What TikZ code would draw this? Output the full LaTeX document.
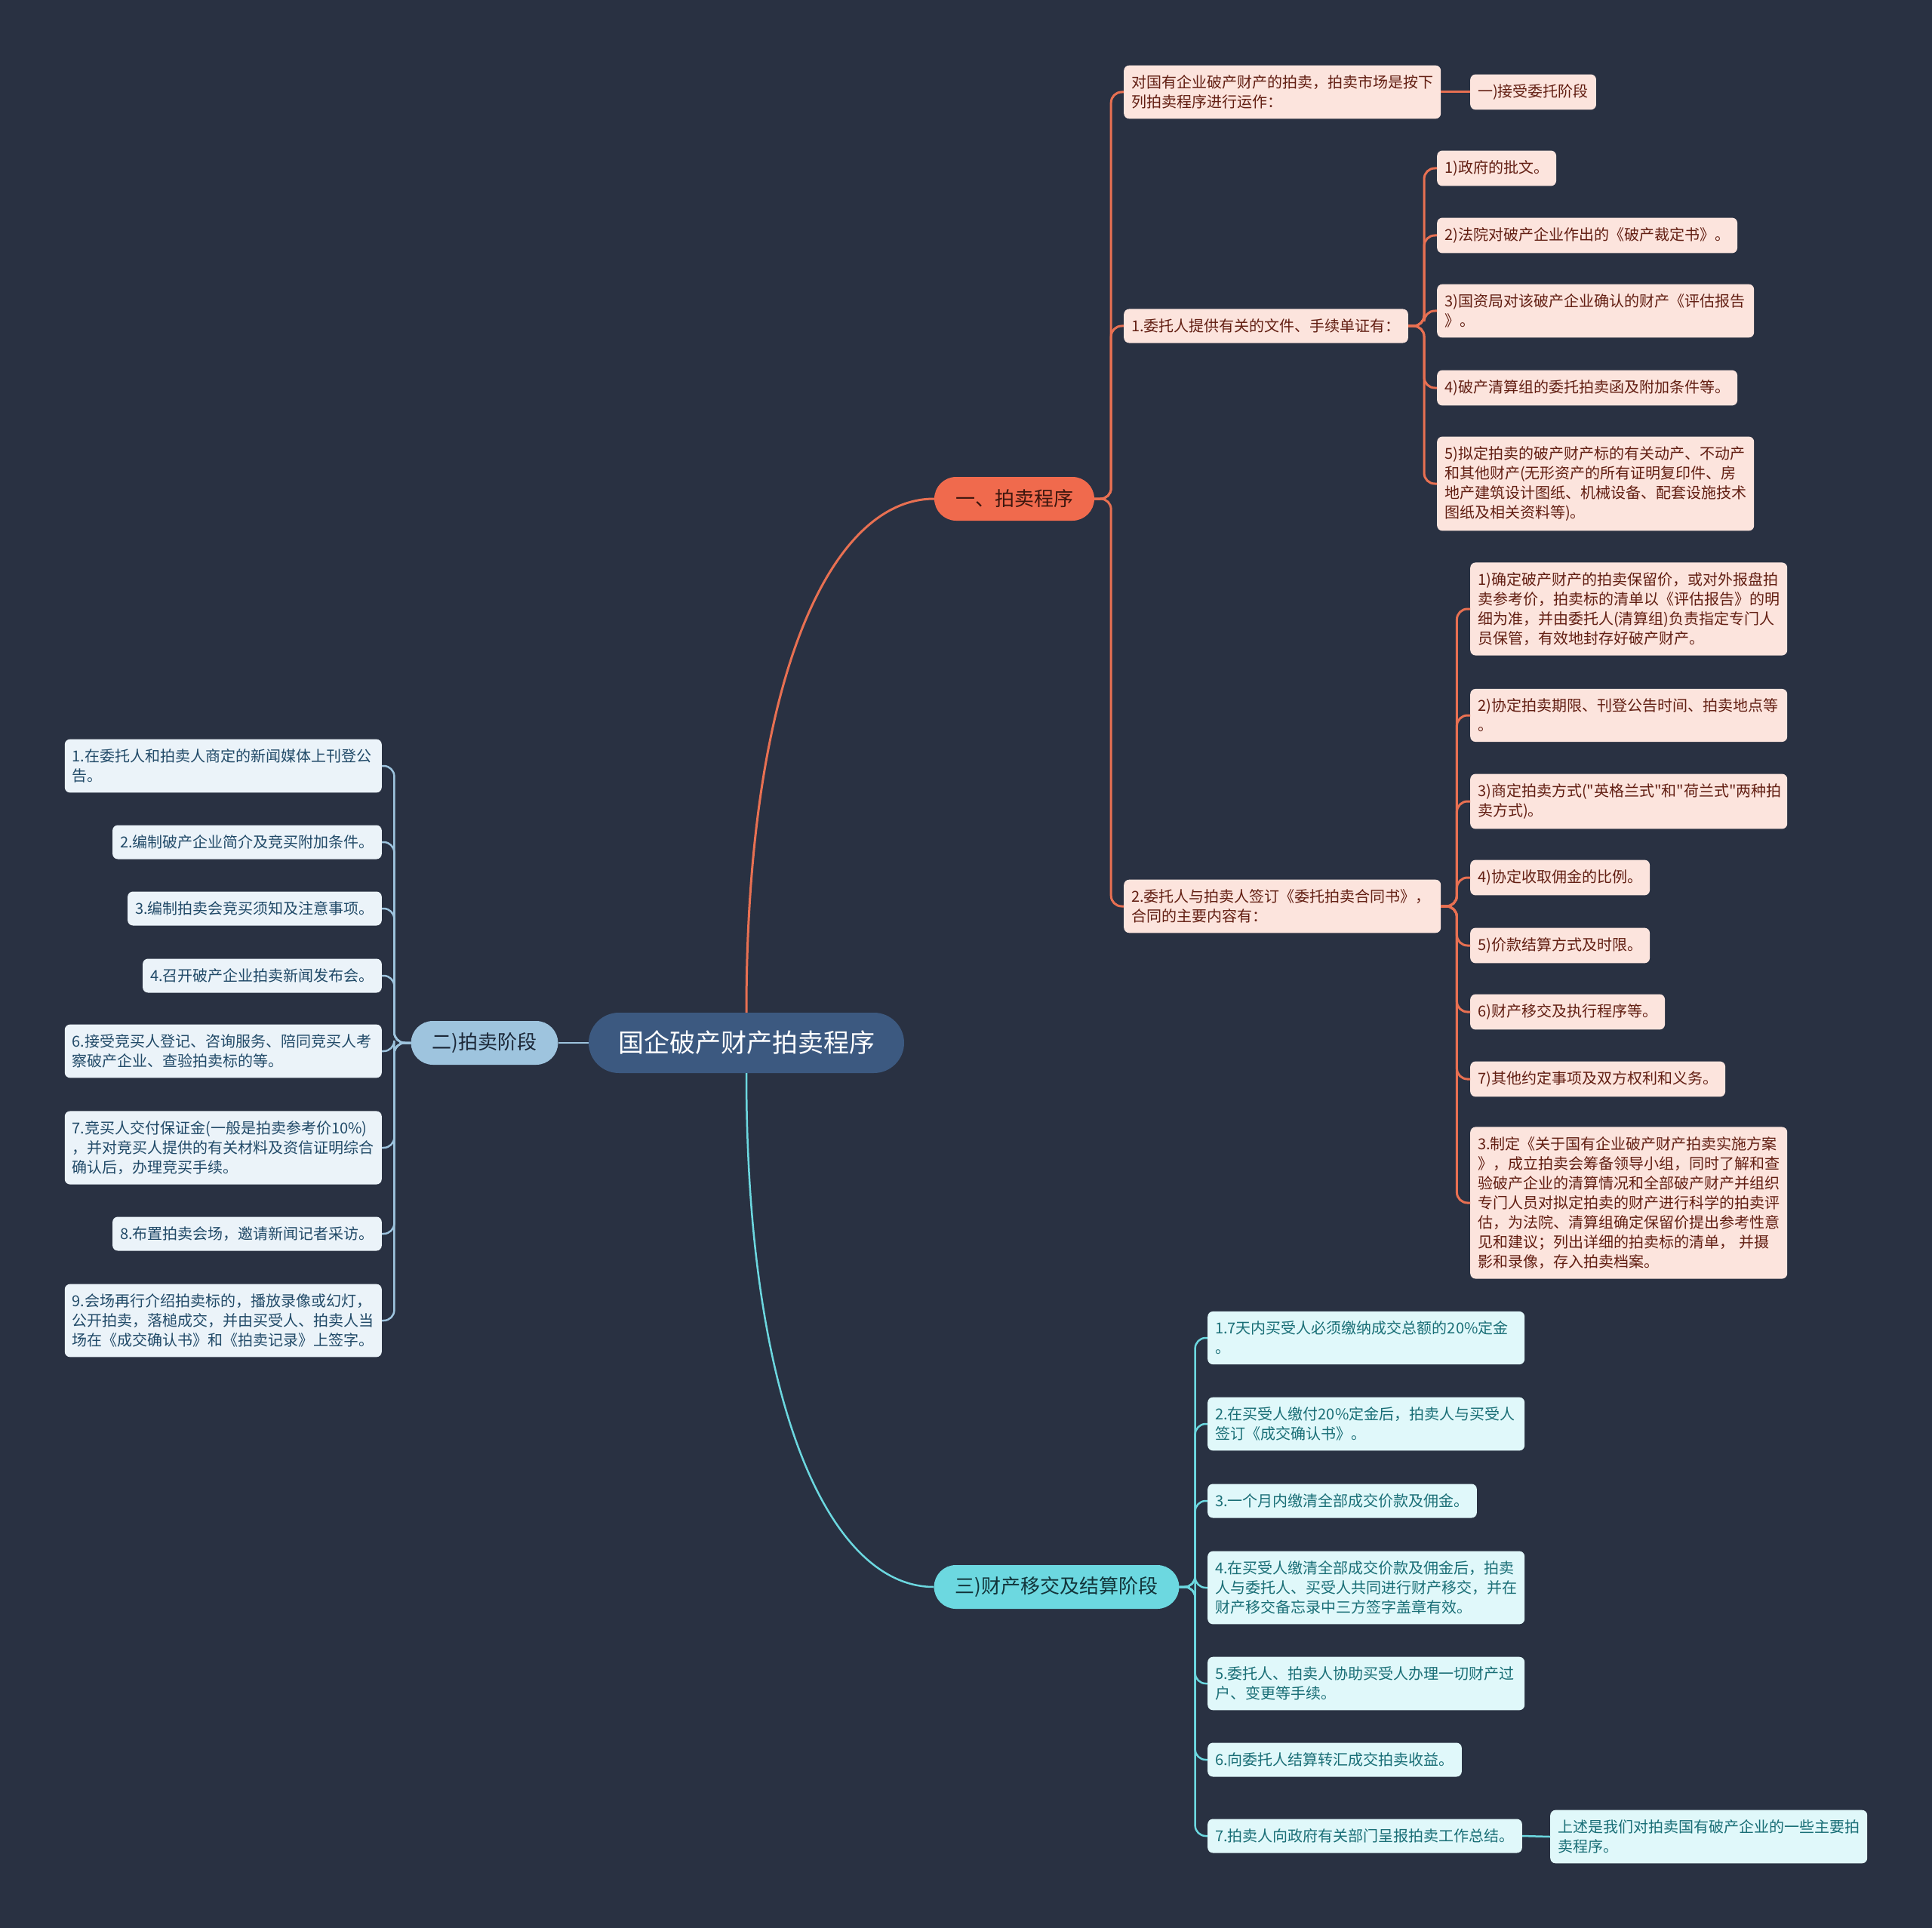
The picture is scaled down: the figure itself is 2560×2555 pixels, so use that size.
\documentclass[tikz,border=0pt]{standalone}
\usepackage{fontspec}
\usepackage{tikz}
\newfontfamily\cjk{Noto Sans CJK SC}
\definecolor{bgdark}{RGB}{41,49,66}
\definecolor{rootblue}{RGB}{60,89,128}
\definecolor{orangemain}{RGB}{240,106,77}
\definecolor{orangeline}{RGB}{232,112,82}
\definecolor{orangeleaf}{RGB}{252,228,221}
\definecolor{orangetext}{RGB}{98,30,18}
\definecolor{orangedark}{RGB}{60,22,14}
\definecolor{bluemain}{RGB}{158,196,222}
\definecolor{blueleaf}{RGB}{235,243,249}
\definecolor{bluetext}{RGB}{33,74,104}
\definecolor{bluedark}{RGB}{28,40,56}
\definecolor{cyanmain}{RGB}{108,216,224}
\definecolor{cyanleaf}{RGB}{224,248,250}
\definecolor{cyantext}{RGB}{25,110,118}
\definecolor{cyandark}{RGB}{18,52,58}

\tikzset{
  rootnode/.style={fill=rootblue, text=white, rounded corners=40pt, minimum height=80pt,
    inner xsep=39pt, font=\cjk\fontsize{34}{40}\selectfont},
  mainnode/.style={rounded corners=29pt, minimum height=58pt, inner xsep=28pt,
    font=\cjk\fontsize{26}{32}\selectfont},
  leafnode/.style={rounded corners=7pt, inner xsep=10pt, inner ysep=13pt, minimum height=45pt,
    align=left, font=\cjk\fontsize{20}{26}\selectfont},
  wide/.style={text width=400pt},
  orleaf/.style={leafnode, fill=orangeleaf, text=orangetext},
  blleaf/.style={leafnode, fill=blueleaf, text=bluetext},
  cyleaf/.style={leafnode, fill=cyanleaf, text=cyantext},
  orlink/.style={draw=orangeline, line width=3pt, rounded corners=14pt},
  bllink/.style={draw=bluemain, line width=2.5pt, rounded corners=14pt},
  cylink/.style={draw=cyanmain, line width=2.5pt, rounded corners=14pt}
}

\begin{document}
\begin{tikzpicture}[x=1pt, y=-1pt]
\fill[bgdark] (0,0) rectangle (2560,2555);

\node[rootnode] (root) at (989,1382) {国企破产财产拍卖程序};
\node[mainnode, fill=orangemain, text=orangedark] (sale) at (1344,661) {一、拍卖程序};
\node[mainnode, fill=bluemain, text=bluedark] (auction) at (642,1382) {二)拍卖阶段};
\node[mainnode, fill=cyanmain, text=cyandark] (handover) at (1400,2103) {三)财产移交及结算阶段};

% 一、拍卖程序
\node[orleaf, wide, anchor=west] (intro) at (1489,122) {对国有企业破产财产的拍卖，拍卖市场是按下\\列拍卖程序进行运作：};
\node[orleaf, anchor=west] (accept) at (1948,122) {一)接受委托阶段};
\node[orleaf, anchor=west] (docs) at (1489,432) {1.委托人提供有关的文件、手续单证有：};
\node[orleaf, anchor=west] (doc1) at (1904,223) {1)政府的批文。};
\node[orleaf, anchor=west] (doc2) at (1904,312) {2)法院对破产企业作出的《破产裁定书》。};
\node[orleaf, wide, anchor=west] (doc3) at (1904,412) {3)国资局对该破产企业确认的财产《评估报告\\》。};
\node[orleaf, anchor=west] (doc4) at (1904,514) {4)破产清算组的委托拍卖函及附加条件等。};
\node[orleaf, wide, anchor=west] (doc5) at (1904,641) {5)拟定拍卖的破产财产标的有关动产、不动产\\和其他财产(无形资产的所有证明复印件、房\\地产建筑设计图纸、机械设备、配套设施技术\\图纸及相关资料等)。};
\node[orleaf, wide, anchor=west] (contract) at (1489,1201) {2.委托人与拍卖人签订《委托拍卖合同书》，\\合同的主要内容有：};
\node[orleaf, wide, anchor=west] (term1) at (1948,807) {1)确定破产财产的拍卖保留价，或对外报盘拍\\卖参考价，拍卖标的清单以《评估报告》的明\\细为准，并由委托人(清算组)负责指定专门人\\员保管，有效地封存好破产财产。};
\node[orleaf, wide, anchor=west] (term2) at (1948,948) {2)协定拍卖期限、刊登公告时间、拍卖地点等\\。};
\node[orleaf, wide, anchor=west] (term3) at (1948,1062) {3)商定拍卖方式("英格兰式"和"荷兰式"两种拍\\卖方式)。};
\node[orleaf, anchor=west] (term4) at (1948,1163) {4)协定收取佣金的比例。};
\node[orleaf, anchor=west] (term5) at (1948,1253) {5)价款结算方式及时限。};
\node[orleaf, anchor=west] (term6) at (1948,1341) {6)财产移交及执行程序等。};
\node[orleaf, anchor=west] (term7) at (1948,1430) {7)其他约定事项及双方权利和义务。};
\node[orleaf, wide, anchor=west] (plan) at (1948,1594) {3.制定《关于国有企业破产财产拍卖实施方案\\》，成立拍卖会筹备领导小组，同时了解和查\\验破产企业的清算情况和全部破产财产并组织\\专门人员对拟定拍卖的财产进行科学的拍卖评\\估，为法院、清算组确定保留价提出参考性意\\见和建议；列出详细的拍卖标的清单， 并摄\\影和录像，存入拍卖档案。};

% 二)拍卖阶段
\node[blleaf, wide, anchor=east] (step1) at (506,1015) {1.在委托人和拍卖人商定的新闻媒体上刊登公\\告。};
\node[blleaf, anchor=east] (step2) at (506,1116) {2.编制破产企业简介及竞买附加条件。};
\node[blleaf, anchor=east] (step3) at (506,1204) {3.编制拍卖会竞买须知及注意事项。};
\node[blleaf, anchor=east] (step4) at (506,1293) {4.召开破产企业拍卖新闻发布会。};
\node[blleaf, wide, anchor=east] (step6) at (506,1393) {6.接受竞买人登记、咨询服务、陪同竞买人考\\察破产企业、查验拍卖标的等。};
\node[blleaf, wide, anchor=east] (step7) at (506,1521) {7.竞买人交付保证金(一般是拍卖参考价10\%)\\，并对竞买人提供的有关材料及资信证明综合\\确认后，办理竞买手续。};
\node[blleaf, anchor=east] (step8) at (506,1635) {8.布置拍卖会场，邀请新闻记者采访。};
\node[blleaf, wide, anchor=east] (step9) at (506,1750) {9.会场再行介绍拍卖标的，播放录像或幻灯，\\公开拍卖，落槌成交，并由买受人、拍卖人当\\场在《成交确认书》和《拍卖记录》上签字。};

% 三)财产移交及结算阶段
\node[cyleaf, wide, anchor=west] (pay1) at (1600,1773) {1.7天内买受人必须缴纳成交总额的20\%定金\\。};
\node[cyleaf, wide, anchor=west] (pay2) at (1600,1887) {2.在买受人缴付20\%定金后，拍卖人与买受人\\签订《成交确认书》。};
\node[cyleaf, anchor=west] (pay3) at (1600,1989) {3.一个月内缴清全部成交价款及佣金。};
\node[cyleaf, wide, anchor=west] (pay4) at (1600,2104) {4.在买受人缴清全部成交价款及佣金后，拍卖\\人与委托人、买受人共同进行财产移交，并在\\财产移交备忘录中三方签字盖章有效。};
\node[cyleaf, wide, anchor=west] (pay5) at (1600,2231) {5.委托人、拍卖人协助买受人办理一切财产过\\户、变更等手续。};
\node[cyleaf, anchor=west] (pay6) at (1600,2332) {6.向委托人结算转汇成交拍卖收益。};
\node[cyleaf, anchor=west] (pay7) at (1600,2433) {7.拍卖人向政府有关部门呈报拍卖工作总结。};
\node[cyleaf, wide, anchor=west] (summary) at (2054,2434) {上述是我们对拍卖国有破产企业的一些主要拍\\卖程序。};

\draw[orlink] (root.north) .. controls (989,900) and (1100,661) .. (sale.west);
\draw[cylink] (root.south) .. controls (989,1864) and (1100,2103) .. (handover.west);
\draw[bllink] (root.west) -- (auction.east);

\foreach \c in {intro,docs,contract}
  \draw[orlink] (sale.east) -- ++(22,0) |- (\c.west);
\draw[orlink] (intro.east) -- (accept.west);
\foreach \i in {1,...,5}
  \draw[orlink] (docs.east) -- ++(21,0) |- (doc\i.west);
\foreach \c in {term1,term2,term3,term4,term5,term6,term7,plan}
  \draw[orlink] (contract.east) -- ++(21,0) |- (\c.west);
\foreach \c in {step1,step2,step3,step4,step6,step7,step8,step9}
  \draw[bllink] (auction.west) -- ++(-22,0) |- (\c.east);
\foreach \i in {1,...,7}
  \draw[cylink] (handover.east) -- ++(21,0) |- (pay\i.west);
\draw[cylink] (pay7.east) -- (summary.west);
\end{tikzpicture}
\end{document}
